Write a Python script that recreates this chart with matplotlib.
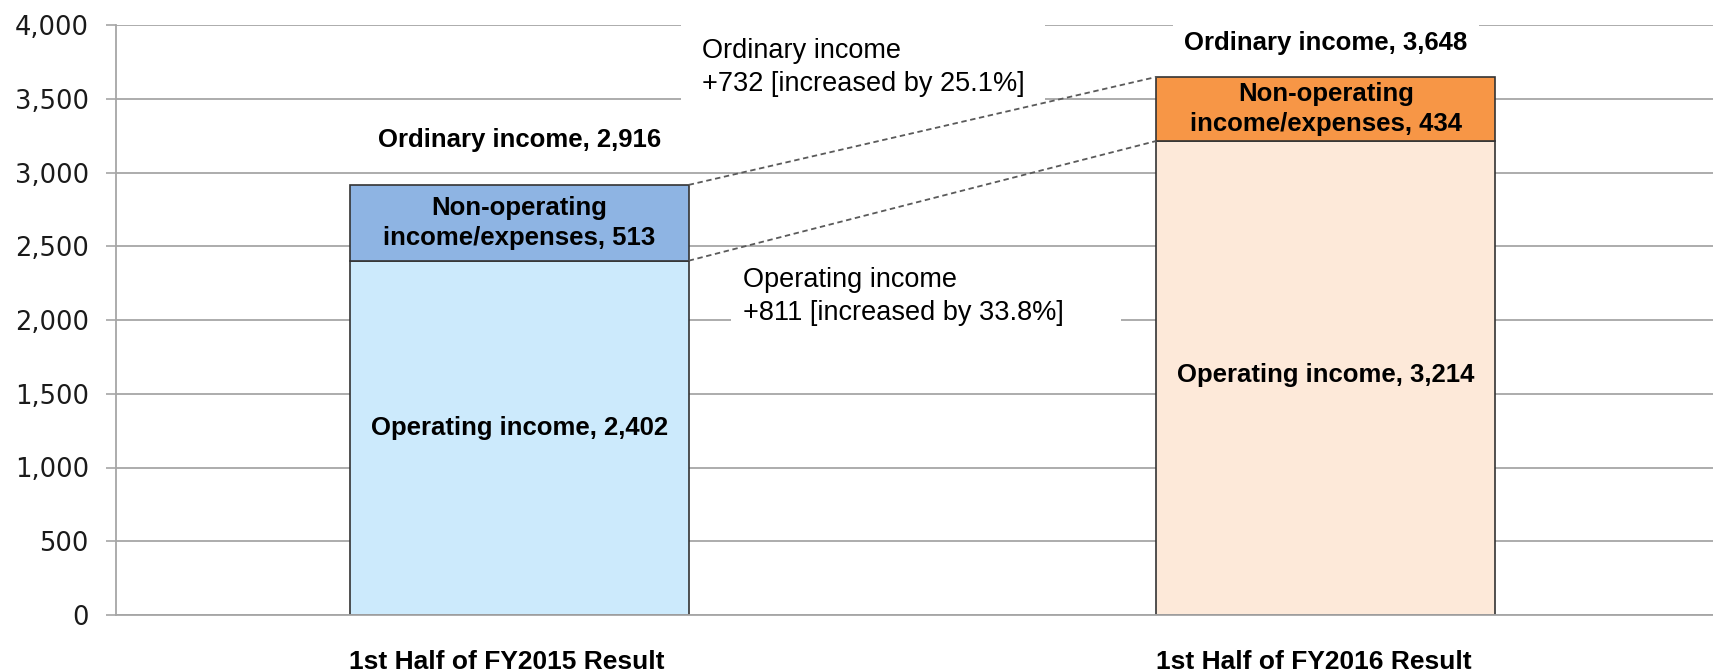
import matplotlib
matplotlib.use("Agg")
import matplotlib.pyplot as plt
from matplotlib.ticker import FuncFormatter

categories = ["1st Half of FY2015 Result", "1st Half of FY2016 Result"]
operating = [2402, 3214]
non_operating = [513, 434]
ordinary = [2916, 3648]
change_notes = ["Ordinary income\n+732 [increased by 25.1%]",
                "Operating income\n+811 [increased by 33.8%]"]

light_cols = ["#cceafc", "#fde9d9"]
dark_cols = ["#8eb4e3", "#f79646"]
grid_col = "#a6a6a6"
FAM = "Liberation Sans"

fig = plt.figure(figsize=(17.13, 6.71), dpi=100)
ax = fig.add_axes([116 / 1713, 56 / 671, 1597 / 1713, 590 / 671])

x = [0, 1]
w = 0.42
ax.bar(x, operating, width=w, color=light_cols, edgecolor="#333333", lw=1.2, zorder=2)
ax.bar(x, non_operating, width=w, bottom=operating, color=dark_cols,
       edgecolor="#333333", lw=1.2, zorder=2)

# connector lines between bar tops
ax.plot([x[0] + w / 2, x[1] - w / 2], [ordinary[0], ordinary[1]],
        ls=(0, (3, 2)), color="#5a5a5a", lw=1.3, zorder=5)
ax.plot([x[0] + w / 2, x[1] - w / 2], [operating[0], operating[1]],
        ls=(0, (3, 2)), color="#5a5a5a", lw=1.3, zorder=5)

ord_offsets = [45, 34]
op_offsets = [10, 3]
spacing = [1.35, 1.3]
for i in x:
    ax.annotate(f"Ordinary income, {ordinary[i]:,}", (i, ordinary[i]),
                xytext=(0, ord_offsets[i]), textcoords="offset pixels",
                ha="center", va="center", fontsize=18.5, fontweight="bold", family=FAM,
                bbox=dict(boxstyle="square,pad=0.45", fc="white", ec="none"), zorder=4)
    ax.text(i, operating[i] + non_operating[i] / 2,
            f"Non-operating\nincome/expenses, {non_operating[i]:,}",
            ha="center", va="center", fontsize=18.5, fontweight="bold", family=FAM,
            linespacing=spacing[i], zorder=4)
    ax.annotate(f"Operating income, {operating[i]:,}", (i, operating[i] / 2),
                xytext=(0, op_offsets[i]), textcoords="offset pixels",
                ha="center", va="center", fontsize=18.5, fontweight="bold", family=FAM,
                zorder=4)

# change notes between the bars
ax.text(0.226, 3710, change_notes[0], ha="left", va="center", fontsize=19.5,
        family=FAM, linespacing=1.35,
        bbox=dict(boxstyle="square,pad=0.75", fc="white", ec="none"), zorder=4)
ax.text(0.277, 2160, change_notes[1] + "      ", ha="left", va="center", fontsize=19.5,
        family=FAM, linespacing=1.35,
        bbox=dict(boxstyle="square,pad=0.45", fc="white", ec="none"), zorder=4)

ax.set_xlim(-0.5, 1.48)
ax.set_ylim(0, 4000)
ax.set_yticks(range(0, 4001, 500))
ax.yaxis.set_major_formatter(FuncFormatter(lambda v, p: f"{int(v):,}"))
ax.yaxis.grid(True, color=grid_col, lw=1.3, zorder=0)
ax.set_axisbelow(True)
ax.tick_params(axis="y", direction="out", length=7.5, width=1.2, color=grid_col,
               pad=12, labelsize=18.5, labelcolor="#1a1a1a")
ax.set_xticks(x)
ax.set_xticklabels([])
for i in x:
    ax.text(i - 0.015, -0.08, categories[i], transform=ax.get_xaxis_transform(),
            ha="center", va="center", fontsize=19, fontweight="bold", family=FAM)
ax.tick_params(axis="x", length=0)
for s in ["top", "right"]:
    ax.spines[s].set_visible(False)
for s in ["left", "bottom"]:
    ax.spines[s].set_color(grid_col)
    ax.spines[s].set_linewidth(1.3)

fig.savefig("out.png", dpi=100)
